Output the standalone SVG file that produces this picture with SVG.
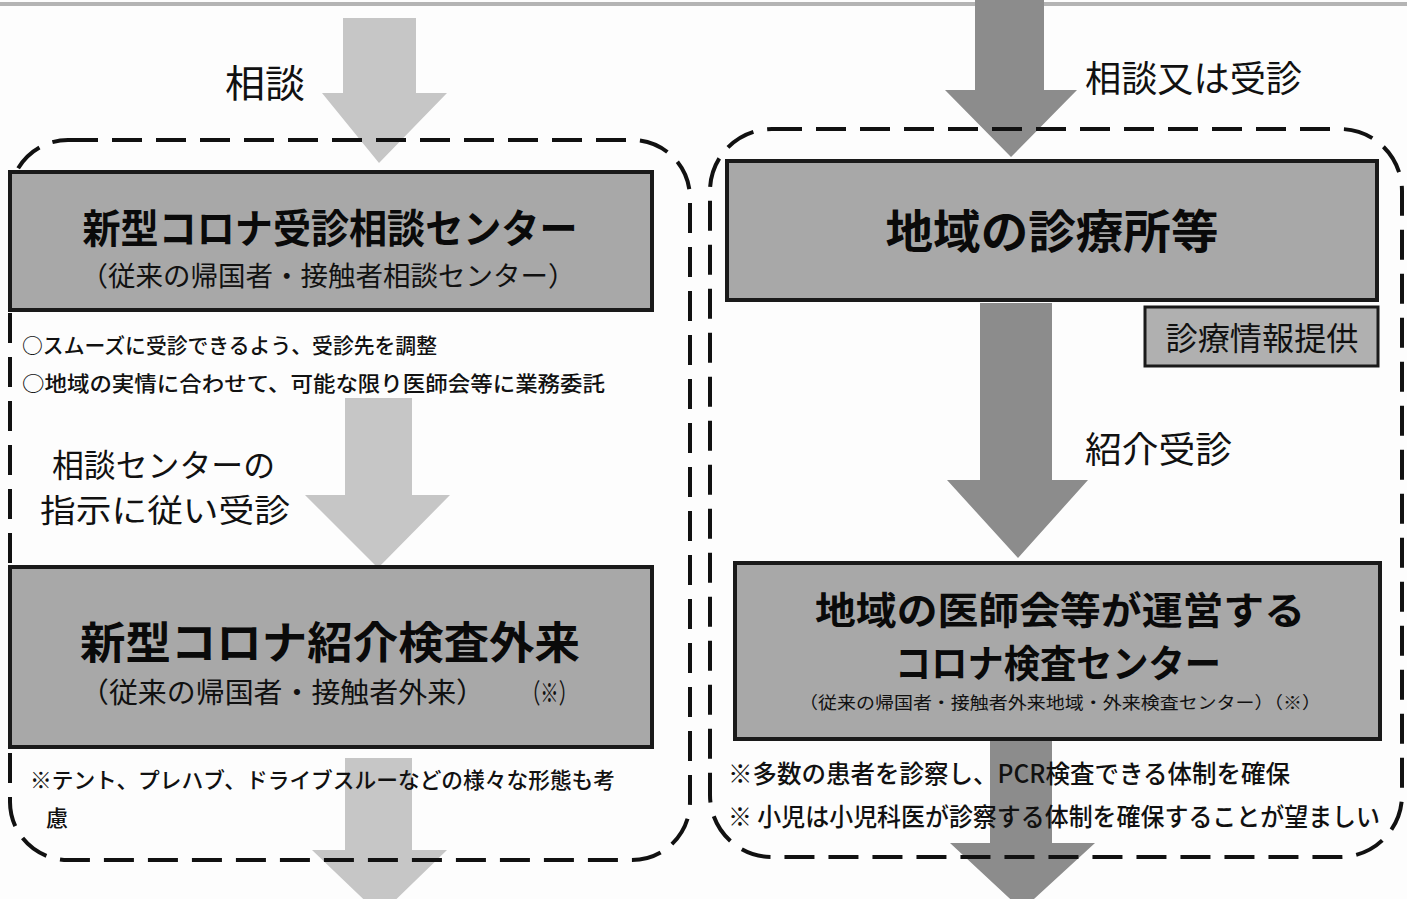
<svg xmlns="http://www.w3.org/2000/svg" width="1407" height="899" viewBox="0 0 1407 899">
<style>
text{font-family:"Noto Sans CJK JP","Noto Sans CJK SC",sans-serif;fill:#111}
.ttl{font-weight:700;fill:#0a0a0a}
.med{font-weight:500}
.box{fill:#a8a8a8;stroke:#1a1a1a;stroke-width:4}
.sbox{fill:#b0b0b0;stroke:#1a1a1a;stroke-width:3}
.light{fill:#c6c6c6}
.dark{fill:#8c8c8c}
.dash{fill:none;stroke:#111;stroke-width:4;stroke-dasharray:30 14}
</style>
<rect x="0" y="0" width="1407" height="899" fill="#fdfdfd"/>
<rect x="0" y="2" width="1407" height="4" fill="#b4b4b4"/>
<g id="connectors">
<polygon class="light" points="343,18 416,18 416,93 447,93 379,163 322,93 343,93"/>
<polygon class="dark" points="975,0 1044,0 1044,90 1077,90 1011,157 945,90 975,90"/>
<polygon class="light" points="345,398 412,398 412,495 450,495 378,568 305,495 345,495"/>
<polygon class="dark" points="980,303 1052,303 1052,480 1088,480 1018,558 947,480 980,480"/>
<polygon class="light" points="345,758 412,758 412,850 447,850 380,915 312,850 345,850"/>
<polygon class="dark" points="990,740 1052,740 1052,843 1095,843 1022,910 950,843 990,843"/>
</g>
<g id="group-left">
<rect class="dash" x="10" y="140" width="680" height="720" rx="58" ry="58"/>
</g>
<g id="group-right">
<rect class="dash" x="710" y="129" width="692" height="728" rx="62" ry="62"/>
</g>
<g id="label-soudan">
<text x="225" y="97" font-size="38" textLength="80" lengthAdjust="spacingAndGlyphs">相談</text>
</g>
<g id="label-soudan-jushin">
<text x="1085" y="92" font-size="36" textLength="217" lengthAdjust="spacingAndGlyphs">相談又は受診</text>
</g>
<g id="node-soudan-center">
<rect class="box" x="10" y="172" width="642" height="138"/>
<text class="ttl" x="330" y="243" font-size="40" text-anchor="middle" textLength="495" lengthAdjust="spacingAndGlyphs">新型コロナ受診相談センター</text>
<text x="328" y="286" font-size="27" text-anchor="middle" textLength="495" lengthAdjust="spacingAndGlyphs">（従来の帰国者・接触者相談センター）</text>
</g>
<g id="notes-left-1">
<text class="med" x="22" y="353" font-size="21" textLength="415" lengthAdjust="spacingAndGlyphs">○スムーズに受診できるよう、受診先を調整</text>
<text class="med" x="22" y="391" font-size="21" textLength="583" lengthAdjust="spacingAndGlyphs">○地域の実情に合わせて、可能な限り医師会等に業務委託</text>
</g>
<g id="label-shiji">
<text x="52" y="477" font-size="32" textLength="223" lengthAdjust="spacingAndGlyphs">相談センターの</text>
<text x="40" y="522" font-size="32" textLength="250" lengthAdjust="spacingAndGlyphs">指示に従い受診</text>
</g>
<g id="node-shokai-gairai">
<rect class="box" x="10" y="567" width="642" height="180"/>
<text class="ttl" x="330" y="659" font-size="44" text-anchor="middle" textLength="500" lengthAdjust="spacingAndGlyphs">新型コロナ紹介検査外来</text>
<text x="80" y="703" font-size="28" textLength="405" lengthAdjust="spacingAndGlyphs">（従来の帰国者・接触者外来）</text>
<text x="522" y="703" font-size="27" textLength="55" lengthAdjust="spacingAndGlyphs">（※）</text>
</g>
<g id="notes-left-2">
<text class="med" x="30" y="788" font-size="22" textLength="585" lengthAdjust="spacingAndGlyphs">※テント、プレハブ、ドライブスルーなどの様々な形態も考</text>
<text class="med" x="46" y="826" font-size="22">慮</text>
</g>
<g id="node-shinryojo">
<rect class="box" x="727" y="161" width="650" height="139"/>
<text class="ttl" x="1052" y="248" font-size="46" text-anchor="middle" textLength="333" lengthAdjust="spacingAndGlyphs">地域の診療所等</text>
</g>
<g id="node-joho">
<rect class="sbox" x="1145" y="307" width="233" height="59"/>
<text x="1262" y="350" font-size="32" text-anchor="middle" textLength="193" lengthAdjust="spacingAndGlyphs">診療情報提供</text>
</g>
<g id="label-shokai-jushin">
<text x="1085" y="463" font-size="36" textLength="147" lengthAdjust="spacingAndGlyphs">紹介受診</text>
</g>
<g id="node-kensa-center">
<rect class="box" x="735" y="563" width="645" height="176"/>
<text class="ttl" x="1060" y="624" font-size="38" text-anchor="middle" textLength="490" lengthAdjust="spacingAndGlyphs">地域の医師会等が運営する</text>
<text class="ttl" x="1058" y="677" font-size="38" text-anchor="middle" textLength="326" lengthAdjust="spacingAndGlyphs">コロナ検査センター</text>
<text x="1060" y="709" font-size="17" text-anchor="middle" textLength="522" lengthAdjust="spacingAndGlyphs">（従来の帰国者・接触者外来地域・外来検査センター）（※）</text>
</g>
<g id="notes-right">
<text class="med" x="728" y="783" font-size="25" textLength="562" lengthAdjust="spacingAndGlyphs">※多数の患者を診察し、PCR検査できる体制を確保</text>
<text class="med" x="728" y="826" font-size="25" textLength="652" lengthAdjust="spacingAndGlyphs">※ 小児は小児科医が診察する体制を確保することが望ましい</text>
</g>
</svg>
